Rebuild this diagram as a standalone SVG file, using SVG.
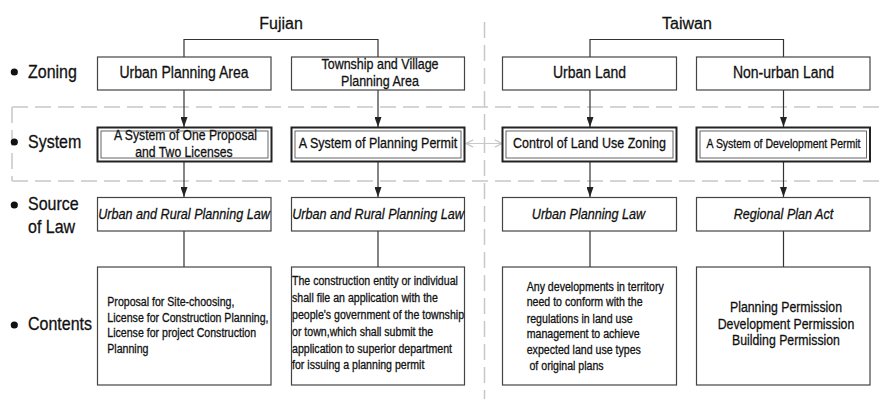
<svg xmlns="http://www.w3.org/2000/svg" width="882" height="399" viewBox="0 0 882 399">
<defs>
<marker id="ah" viewBox="0 0 10 7" refX="10" refY="3.5" markerWidth="10" markerHeight="7" markerUnits="userSpaceOnUse" orient="auto"><path d="M0,0 L10,3.5 L0,7 Z" fill="#222"/></marker>
<marker id="oa" viewBox="0 0 10 10" refX="9" refY="5" markerWidth="9" markerHeight="9" markerUnits="userSpaceOnUse" orient="auto-start-reverse"><path d="M1,1 L9,5 L1,9" fill="none" stroke="#c8c8c8" stroke-width="1.5"/></marker>
<style>
text{font-family:"Liberation Sans",Arial,sans-serif;fill:#111;stroke:#111;stroke-width:0.25}
.lbl{font-size:16px}
.ttl{font-size:16px;text-anchor:middle}
.bx{font-size:14px;text-anchor:middle}
.sm{font-size:12.5px;text-anchor:middle}
.law{font-size:12.6px;font-style:italic;text-anchor:middle}
.ct{font-size:10.6px}
.pm{font-size:12.3px;text-anchor:middle}
.box{fill:#fff;stroke:#444;stroke-width:1.2}
.sys{fill:#fff;stroke:#222;stroke-width:2}
.sysin{fill:none;stroke:#555;stroke-width:0.9}
.dash{fill:none;stroke:#c8c8c8;stroke-width:1.5;stroke-dasharray:16 7}
.con{fill:none;stroke:#333;stroke-width:1.2}
.arr{marker-end:url(#ah)}
</style>
</defs>
<rect width="882" height="399" fill="#fff"/>

<g id="separators">
<path class="dash" d="M12,107 H882 M12,181 H882 M12,107 V181"/>
<path class="dash" d="M484.5,22 V399" stroke-dasharray="14 6"/>
</g>

<g id="titles">
<text class="ttl" transform="translate(281,29) scale(1,1.08)">Fujian</text>
<text class="ttl" transform="translate(687,29) scale(1,1.08)">Taiwan</text>
</g>

<g id="row-labels">
<circle cx="14.3" cy="72" r="3.6" fill="#111"/>
<text class="lbl" transform="translate(28,78.3) scale(1,1.2)">Zoning</text>
<circle cx="14.3" cy="142" r="3.6" fill="#111"/>
<text class="lbl" transform="translate(28,148.3) scale(1,1.2)">System</text>
<circle cx="14.3" cy="205" r="3.6" fill="#111"/>
<text class="lbl" transform="translate(28,210) scale(1,1.2)">Source</text>
<text class="lbl" transform="translate(28,233.3) scale(1,1.2)">of Law</text>
<circle cx="14.3" cy="325" r="3.6" fill="#111"/>
<text class="lbl" transform="translate(28,330) scale(1,1.2)">Contents</text>
</g>

<g id="connectors">
<path class="con" d="M184,57 V39.5 H378 V57 M590,57 V39.5 H783.5 V57"/>
<path class="con arr" d="M184,90 V127"/>
<path class="con arr" d="M378,90 V127"/>
<path class="con arr" d="M590,90 V127"/>
<path class="con arr" d="M783.5,90 V127"/>
<path class="con arr" d="M184,162 V197"/>
<path class="con arr" d="M378,162 V197"/>
<path class="con arr" d="M590,162 V197"/>
<path class="con arr" d="M783.5,162 V197"/>
<path class="con" d="M184,231 V267 M378,231 V267 M590,231 V267 M783.5,231 V267"/>
<path d="M466,143.5 H502" fill="none" stroke="#c8c8c8" stroke-width="1.2" marker-start="url(#oa)" marker-end="url(#oa)"/>
</g>

<g id="zoning-urban-planning-area">
<rect class="box" x="97.5" y="57" width="173.5" height="33"/>
<text class="bx" transform="translate(184,78.3) scale(1,1.17)">Urban Planning Area</text>
</g>
<g id="zoning-township-village">
<rect class="box" x="291.5" y="57" width="173" height="33"/>
<text class="sm" transform="translate(380,68.5) scale(1,1.2)"><tspan x="0" y="0">Township and Village</tspan><tspan x="0" y="15">Planning Area</tspan></text>
</g>
<g id="zoning-urban-land">
<rect class="box" x="502.5" y="57" width="174" height="33"/>
<text class="bx" transform="translate(589.5,78.3) scale(1,1.17)">Urban Land</text>
</g>
<g id="zoning-non-urban-land">
<rect class="box" x="696.5" y="57" width="173.5" height="33"/>
<text class="bx" transform="translate(783.5,78.3) scale(1,1.17)">Non-urban Land</text>
</g>

<g id="system-one-proposal">
<rect class="sys" x="97.5" y="127.5" width="174" height="34"/>
<rect class="sysin" x="101" y="131" width="167" height="27"/>
<text class="sm" transform="translate(185.5,140) scale(1,1.2)"><tspan x="0" y="0" font-size="12.2">A System of One Proposal</tspan><tspan x="-1.5" y="13.8" font-size="12.2">and Two Licenses</tspan></text>
</g>
<g id="system-planning-permit">
<rect class="sys" x="291.5" y="127.5" width="173" height="34"/>
<rect class="sysin" x="295" y="131" width="166" height="27"/>
<text class="sm" transform="translate(378,147.5) scale(1,1.2)">A System of Planning Permit</text>
</g>
<g id="system-land-use-zoning">
<rect class="sys" x="502.5" y="127.5" width="174" height="34"/>
<rect class="sysin" x="506" y="131" width="167" height="27"/>
<text class="sm" transform="translate(589.5,148) scale(1,1.22)">Control of Land Use Zoning</text>
</g>
<g id="system-development-permit">
<rect class="sys" x="696.5" y="127.5" width="173.5" height="34"/>
<rect class="sysin" x="700" y="131" width="166.5" height="27"/>
<text class="sm" style="font-size:10.5px" transform="translate(783.5,147.5) scale(1,1.25)">A System of Development Permit</text>
</g>

<g id="law-urban-rural-1">
<rect class="box" x="97.5" y="197.5" width="173.5" height="33.5"/>
<text class="law" transform="translate(184,218.5) scale(1,1.2)">Urban and Rural Planning Law</text>
</g>
<g id="law-urban-rural-2">
<rect class="box" x="291.5" y="197.5" width="173" height="33.5"/>
<text class="law" transform="translate(378,218.5) scale(1,1.2)">Urban and Rural Planning Law</text>
</g>
<g id="law-urban-planning">
<rect class="box" x="502.5" y="197.5" width="174" height="33.5"/>
<text class="law" transform="translate(588.5,218.5) scale(1,1.2)">Urban Planning Law</text>
</g>
<g id="law-regional-plan">
<rect class="box" x="696.5" y="197.5" width="173.5" height="33.5"/>
<text class="law" transform="translate(783.5,218.5) scale(1,1.2)">Regional Plan Act</text>
</g>

<g id="contents-1">
<rect class="box" x="97.5" y="267" width="173.5" height="118"/>
<text class="ct" transform="translate(107.3,306) scale(1,1.2)"><tspan x="0" y="0">Proposal for Site-choosing,</tspan><tspan x="0" y="13">License for Construction Planning,</tspan><tspan x="0" y="26">License for project Construction</tspan><tspan x="0" y="38.8">Planning</tspan></text>
</g>
<g id="contents-2">
<rect class="box" x="291.5" y="267" width="173" height="118"/>
<text class="ct" transform="translate(292,285) scale(1,1.2)"><tspan x="0" y="0">The construction entity or individual</tspan><tspan x="0" y="14.4">shall file an application with the</tspan><tspan x="0" y="28.4">people's government of the township</tspan><tspan x="0" y="42.5">or town,which shall submit the</tspan><tspan x="0" y="56.4">application to superior department</tspan><tspan x="0" y="70.3">for issuing a  planning permit</tspan></text>
</g>
<g id="contents-3">
<rect class="box" x="502.5" y="267" width="174" height="118"/>
<text class="ct" transform="translate(526.7,290.5) scale(1,1.2)"><tspan x="0" y="0">Any developments in territory</tspan><tspan x="0" y="13.3">need to conform with the</tspan><tspan x="0" y="26.7">regulations in land use</tspan><tspan x="0" y="40">management to achieve</tspan><tspan x="0" y="53.3">expected land use types</tspan><tspan x="2.8" y="66.2">of original plans</tspan></text>
</g>
<g id="contents-4">
<rect class="box" x="696.5" y="267" width="173.5" height="118"/>
<text class="pm" transform="translate(786,312) scale(1,1.22)"><tspan x="0" y="0">Planning Permission</tspan><tspan x="0" y="13.6">Development Permission</tspan><tspan x="0" y="27.2">Building Permission</tspan></text>
</g>
</svg>
